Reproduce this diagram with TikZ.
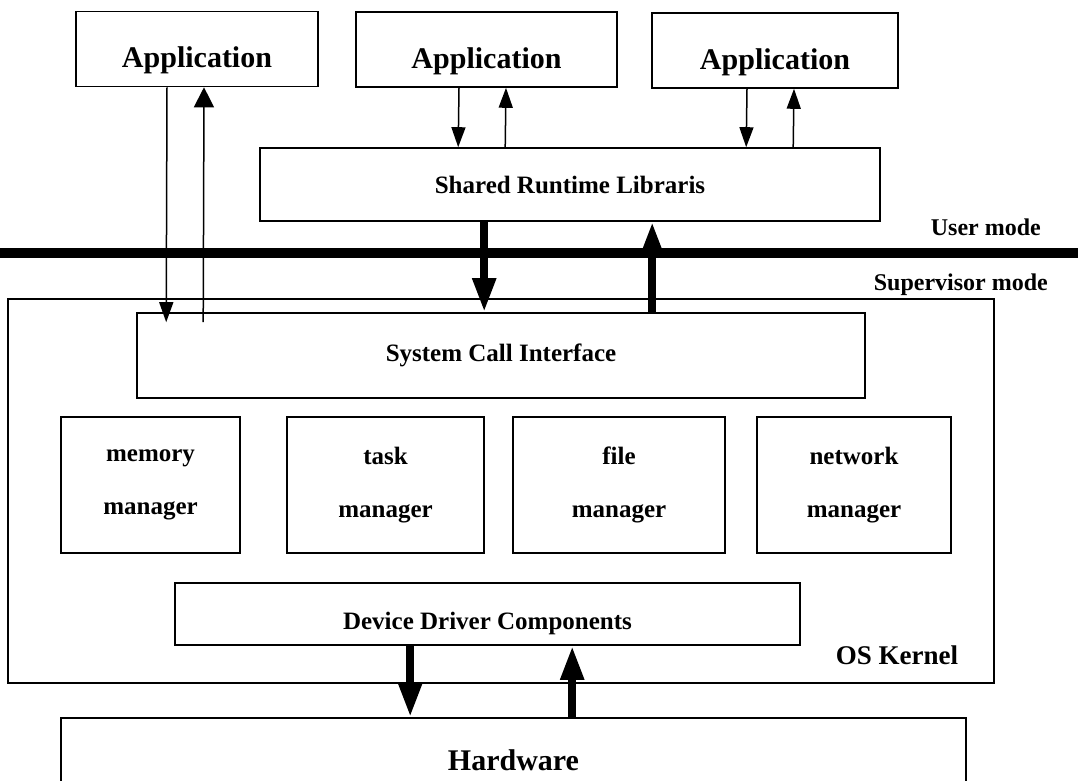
\documentclass[tikz,border=0pt]{standalone}
\usepackage{fontspec}
\setmainfont{Liberation Serif}
\usetikzlibrary{arrows.meta}
\begin{document}
\begin{tikzpicture}[x=1pt,y=-1pt]
            \tikzset{Box/.style={draw,line width=1.6pt,inner sep=0pt,align=center,font=\bfseries\fontsize{25}{53}\selectfont}}
            \tikzset{AppBox/.style={Box,minimum height=75,text height=38pt,text depth=0pt,font=\bfseries\fontsize{30}{36}\selectfont}}
            \tikzset{Mgr/.style={Box,minimum height=136}}
            \tikzset{Thin/.style={line width=1.5pt,-{Triangle[width=14pt,length=20pt]}}}
            \tikzset{Thick/.style={line width=8pt,-{Triangle[width=22pt,length=34pt]}}}
            \tikzset{Mode/.style={font=\bfseries\fontsize{24}{28}\selectfont,inner sep=0pt}}
            \useasboundingbox (0,0) rectangle (1078,781);
            \node[AppBox,minimum width=242] (app1) at (197,49) {Application} ;
            \node[AppBox,minimum width=261] (app2) at (486.5,49.5) {Application} ;
            \node[AppBox,minimum width=246] (app3) at (775,50.5) {Application} ;
            \node[Box,minimum width=620,minimum height=73] (libs) at (570,184.5) {Shared Runtime Libraris} ;
            \draw[line width=10pt] (0,253) -- (1078,253);
            \node[Mode,anchor=east] (user) at (1041,227) {User mode} ;
            \node[Mode,anchor=east] (super) at (1048,285) {Supervisor mode} ;
            \node[draw,line width=1.6pt,minimum width=986,minimum height=384] (kernel) at (501,491) {} ;
            \node[Box,minimum width=728,minimum height=85] (sci) at (501,355.5) {System Call Interface} ;
            \node[Mgr,minimum width=179] (mem) at (150.5,485) {memory\\manager} ;
            \node[Mgr,minimum width=197] (task) at (385.5,485) {task\\manager} ;
            \node[Mgr,minimum width=212] (file) at (619,485) {file\\manager} ;
            \node[Mgr,minimum width=194] (net) at (854,485) {network\\manager} ;
            \node[Box,minimum width=625,minimum height=62,text height=30pt,text depth=0pt] (ddc) at (487.5,614) {Device Driver Components} ;
            \node[Mode,font=\bfseries\fontsize{27}{32}\selectfont] (oskernel) at (897,655) {OS Kernel} ;
            \node[Box,minimum width=905,minimum height=84,font=\bfseries\fontsize{30}{36}\selectfont] (hw) at (513.5,760) {Hardware} ;
            \draw[Thin] ([xshift=-30pt]app1.south) -- ([shift={(30,10)}]sci.north west);
            \draw[Thin,-{Triangle[width=20pt,length=20pt]}] ([shift={(67,10)}]sci.north west) -- ([xshift=7pt]app1.south);
            \draw[Thin] ([xshift=-27.5pt]app2.south) -- ([xshift=199pt]libs.north west);
            \draw[Thin] ([xshift=246pt]libs.north west) -- ([xshift=19.5pt]app2.south);
            \draw[Thin] ([xshift=-28pt]app3.south) -- ([xshift=487pt]libs.north west);
            \draw[Thin] ([xshift=534pt]libs.north west) -- ([xshift=19pt]app3.south);
            \draw[Thick] ([xshift=225pt]libs.south west) -- ([xshift=348pt]sci.north west);
            \draw[Thick] ([xshift=516pt]sci.north west) -- ([xshift=393pt]libs.south west);
            \draw[Thick] ([xshift=236pt]ddc.south west) -- ([xshift=350pt]hw.north west);
            \draw[Thick] ([xshift=512pt]hw.north west) -- ([xshift=398pt]ddc.south west);
        \end{tikzpicture}
\end{document}
